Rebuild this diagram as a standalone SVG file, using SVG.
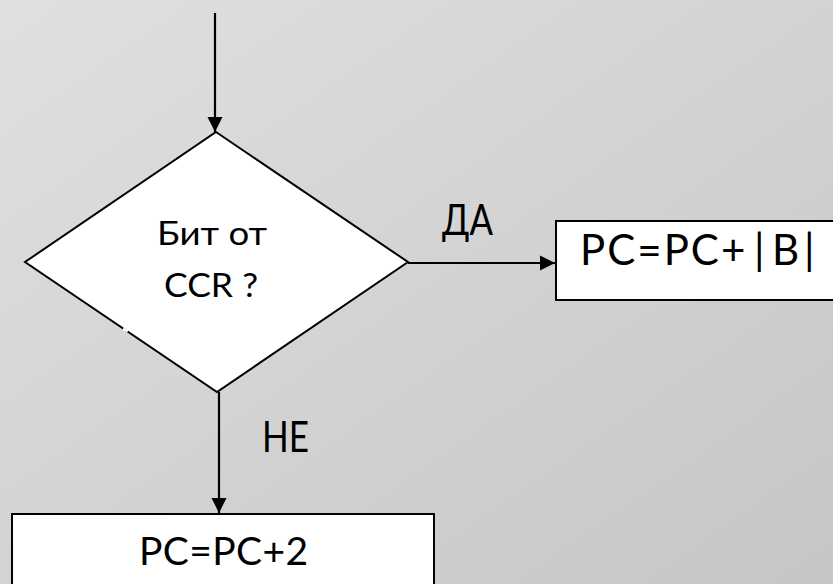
<svg xmlns="http://www.w3.org/2000/svg" width="833" height="584" viewBox="0 0 833 584">
<defs>
<linearGradient id="bg" x1="0" y1="0" x2="1" y2="1">
<stop offset="0" stop-color="#e0e0e0"/>
<stop offset="1" stop-color="#c6c6c6"/>
</linearGradient>
<marker id="arr" viewBox="0 0 10 10" refX="10" refY="5" markerWidth="7" markerHeight="7" markerUnits="strokeWidth" orient="auto">
<path d="M0,0 L10,5 L0,10 Z" fill="#000"/>
</marker>
</defs>
<style>
.shape{fill:#fff;stroke:#000;stroke-width:2}
.conn{fill:none;stroke:#000;stroke-width:2.2;marker-end:url(#arr)}
text{font-family:Lato,"Open Sans","Liberation Sans",sans-serif;fill:#000;text-anchor:middle}
</style>
<rect x="0" y="0" width="833" height="584" fill="url(#bg)"/>
<g id="connectors">
<line class="conn" x1="215" y1="13" x2="215" y2="132"/>
<line class="conn" x1="408" y1="263" x2="555" y2="263"/>
<line class="conn" x1="219" y1="392" x2="219" y2="513"/>
</g>
<g id="decision">
<polygon class="shape" points="216,132 408,262 217,392 25,262"/>
<line x1="123" y1="329" x2="128" y2="331" stroke="#fff" stroke-width="2.5"/>
<text x="212" y="245" font-size="32" textLength="110" lengthAdjust="spacingAndGlyphs">Бит от</text>
<text x="211" y="297" font-size="32" textLength="94" lengthAdjust="spacingAndGlyphs">CCR ?</text>
</g>
<g id="label-yes">
<text x="467.5" y="235" font-size="42" textLength="51" lengthAdjust="spacingAndGlyphs">ДА</text>
</g>
<g id="box-yes">
<rect class="shape" x="556" y="221" width="290" height="79"/>
<text y="265" font-size="42" style="text-anchor:start"><tspan x="580" letter-spacing="2">PC=PC+</tspan><tspan x="754">|</tspan><tspan x="772">B</tspan><tspan x="804">|</tspan></text>
</g>
<g id="label-no">
<text x="285.5" y="452" font-size="43" textLength="47" lengthAdjust="spacingAndGlyphs">НЕ</text>
</g>
<g id="box-no">
<rect class="shape" x="12" y="514" width="422" height="80"/>
<text x="223.5" y="565" font-size="39" textLength="169" lengthAdjust="spacing">PC=PC+2</text>
</g>
</svg>
